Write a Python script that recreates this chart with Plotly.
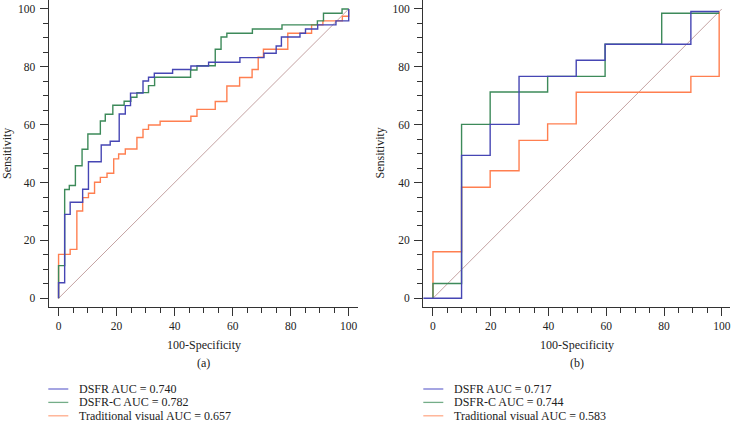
import plotly.graph_objects as go

# ---------------- data ----------------
# Panel (a)
a_dsfr_x = [0, 0, 2.1, 4.0, 8.3, 10.3, 14.7, 17.8, 20.9, 23.0, 24.8, 29.1, 31.0, 33.0, 39.3, 45.6, 51.7, 62.5, 70.8, 75.0, 76.8, 83.2, 85.1, 89.3, 95.6, 100]
a_dsfr_y = [0, 5.4, 29.0, 33.2, 37.7, 47.2, 53.0, 54.3, 63.7, 66.6, 70.9, 75.1, 76.4, 77.8, 79.1, 80.3, 81.6, 83.2, 84.7, 87.2, 90.3, 91.6, 93.1, 94.5, 95.9, 100]

a_dsfrc_x = [0, 0, 2.1, 3.7, 5.8, 8.1, 10.1, 14.4, 16.1, 18.7, 22.6, 24.9, 27.0, 31.0, 33.1, 45.5, 47.7, 54.0, 56.0, 58.0, 66.8, 77.0, 89.2, 91.3, 97.7, 100]
a_dsfrc_y = [0, 11.3, 37.6, 39.0, 45.8, 51.5, 56.8, 61.3, 63.6, 66.7, 68.1, 69.5, 71.1, 73.5, 76.4, 78.9, 80.4, 86.1, 90.3, 91.6, 93.1, 94.5, 95.9, 98.5, 100, 100]

a_trad_x = [0, 0, 4.0, 6.3, 8.3, 10.3, 12.4, 14.4, 16.7, 19.0, 20.7, 23.0, 27.0, 29.1, 31.0, 35.0, 45.6, 47.7, 54.0, 58.0, 62.4, 66.7, 68.8, 70.6, 79.0, 87.2, 91.1, 97.8, 100]
a_trad_y = [0, 15.2, 16.9, 30.2, 34.8, 36.3, 40.1, 41.8, 43.2, 48.2, 49.9, 51.6, 55.6, 58.4, 59.9, 61.2, 62.9, 65.3, 68.0, 73.4, 76.3, 79.1, 83.3, 86.1, 91.6, 94.5, 95.9, 97.5, 100]

# Panel (b)
b_dsfr_x = [-3.4, 9.9, 19.8, 29.8, 49.6, 59.6, 89.3, 99.1]
b_dsfr_y = [0, 49.4, 60.1, 76.7, 82.3, 87.8, 99.1, 99.1]

b_dsfrc_x = [0, 0, 9.9, 19.8, 39.7, 59.6, 79.2, 99.1]
b_dsfrc_y = [0, 5.1, 60.1, 71.3, 76.7, 87.8, 98.5, 98.5]

b_trad_x = [0, 0, 9.9, 19.8, 29.8, 39.7, 49.6, 89.3, 99.1]
b_trad_y = [0, 16.1, 38.4, 44.1, 54.6, 60.3, 71.2, 76.7, 99.0]

diag = [0, 100]

legend_a = ["DSFR AUC = 0.740", "DSFR-C AUC = 0.782", "Traditional visual AUC = 0.657"]
legend_b = ["DSFR AUC = 0.717", "DSFR-C AUC = 0.744", "Traditional visual AUC = 0.583"]
tick_vals = [0, 20, 40, 60, 80, 100]
x_title = "100-Specificity"
y_title = "Sensitivity"
panel_labels = ["(a)", "(b)"]

# ---------------- style ----------------
W, H = 732, 422
FONT = "Liberation Serif"
TXT = "#222222"
AXC = "#333333"
C_BLUE = "#4646b4"
C_GREEN = "#3d8a5a"
C_ORANGE = "#ff7f50"
C_DIAG = "#c4a2a2"
L_BLUE = "#7474d2"
L_GREEN = "#74ad88"
L_ORANGE = "#ffab8a"


def px(xp):
    return xp / W


def py(yp):
    return (H - yp) / H


fig = go.Figure()

panels = [
    ("x", "y", (a_dsfr_x, a_dsfr_y), (a_dsfrc_x, a_dsfrc_y), (a_trad_x, a_trad_y)),
    ("x2", "y2", (b_dsfr_x, b_dsfr_y), (b_dsfrc_x, b_dsfrc_y), (b_trad_x, b_trad_y)),
]
names = ["DSFR", "DSFR-C", "Traditional visual"]
for xa, ya, s1, s2, s3 in panels:
    fig.add_trace(go.Scatter(x=diag, y=diag, mode="lines", xaxis=xa, yaxis=ya,
                             line=dict(color=C_DIAG, width=1), showlegend=False, hoverinfo="skip"))
    for (sx, sy), col, nm in zip([s3, s2, s1], [C_ORANGE, C_GREEN, C_BLUE], names[::-1]):
        fig.add_trace(go.Scatter(x=sx, y=sy, mode="lines", xaxis=xa, yaxis=ya, name=nm,
                                 line=dict(color=col, width=1.4, shape="hv"), showlegend=False))

ydom = [py(306.7), 1.0]
common = dict(
    showline=True, linecolor=AXC, linewidth=1.3, ticks="outside", ticklen=8, tickwidth=1.2,
    tickcolor=AXC, tickmode="array", tickvals=tick_vals, showgrid=False, zeroline=False,
    tickfont=dict(family=FONT, size=11.5, color=TXT),
    minor=dict(dtick=5, tick0=0, ticks="outside", ticklen=5, tickwidth=1, tickcolor=AXC, showgrid=False),
)
fig.update_layout(
    width=W, height=H, margin=dict(l=0, r=0, t=0, b=0),
    paper_bgcolor="white", plot_bgcolor="white", showlegend=False,
    font=dict(family=FONT, color=TXT),
    xaxis=dict(domain=[px(48.7), px(358.3)], range=[-3.4, 103.3], anchor="y", **common),
    yaxis=dict(domain=ydom, range=[-2.9, 103.1], anchor="x", ticklabelstandoff=2, **common),
    xaxis2=dict(domain=[px(423.3), px(730.0)], range=[-3.35, 102.85], anchor="y2", **common),
    yaxis2=dict(domain=ydom, range=[-2.9, 103.1], anchor="x2", ticklabelstandoff=2, **common),
)

annotations = []
shapes = []
for cx, ylab_x, lab, leg_x0, texts in [
    (203.5, 7.5, panel_labels[0], 48.3, legend_a),
    (576.7, 380.0, panel_labels[1], 423.3, legend_b),
]:
    annotations.append(dict(x=px(cx), y=py(345), xref="paper", yref="paper", text=x_title,
                            showarrow=False, font=dict(family=FONT, size=12, color=TXT),
                            xanchor="center", yanchor="middle"))
    annotations.append(dict(x=px(cx), y=py(362.5), xref="paper", yref="paper", text=lab,
                            showarrow=False, font=dict(family=FONT, size=12, color=TXT),
                            xanchor="center", yanchor="middle"))
    annotations.append(dict(x=px(ylab_x), y=py(153.5), xref="paper", yref="paper", text=y_title,
                            showarrow=False, textangle=-90, font=dict(family=FONT, size=12, color=TXT),
                            xanchor="center", yanchor="middle"))
    for i, (t, c) in enumerate(zip(texts, [L_BLUE, L_GREEN, L_ORANGE])):
        yy = 389.0 + i * 13.4
        shapes.append(dict(type="line", xref="paper", yref="paper",
                           x0=px(leg_x0), x1=px(leg_x0 + 20), y0=py(yy), y1=py(yy),
                           line=dict(color=c, width=1.3)))
        annotations.append(dict(x=px(leg_x0 + 28.4), y=py(yy), xref="paper", yref="paper", text=t,
                                showarrow=False, font=dict(family=FONT, size=12, color=TXT),
                                xanchor="left", yanchor="middle"))
fig.update_layout(annotations=annotations, shapes=shapes)

fig.write_html("out.html", config={"displayModeBar": False})
